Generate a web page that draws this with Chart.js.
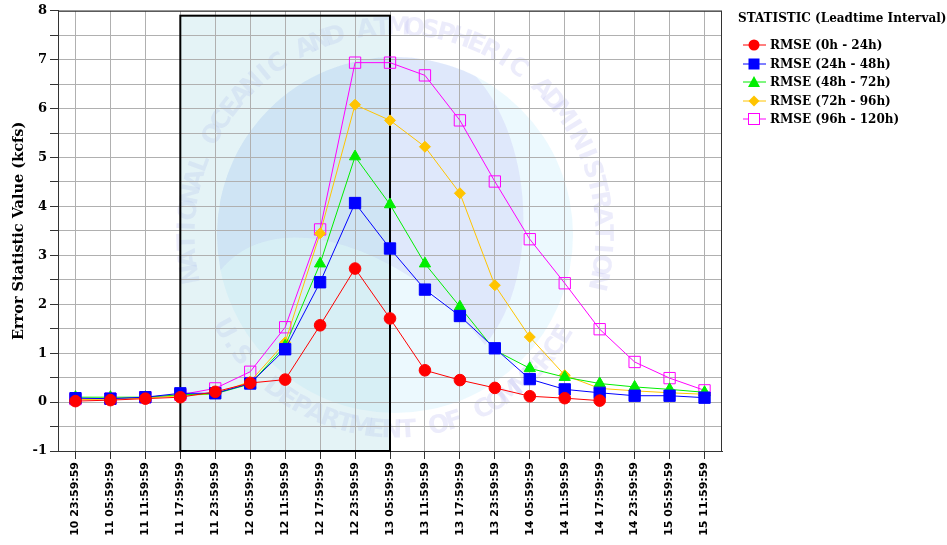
<!DOCTYPE html>
<html>
<head>
<meta charset="utf-8">
<script src="https://cdn.jsdelivr.net/npm/chart.js@4"></script>
<style>
  html,body{margin:0;padding:0;background:#fff;overflow:hidden}
  #wrap{position:relative;width:947px;height:545px}
  #legend{position:absolute;left:0;top:0;font-family:'DejaVu Serif',serif;font-weight:bold;font-size:12px;color:#000}
  .lg-title{position:absolute;left:738px;top:10px;white-space:nowrap;line-height:16px}
  .lg-row{position:absolute;left:743px;height:16px;white-space:nowrap;line-height:16px}
  .lg-row svg{position:absolute;left:0;top:1px}
  .lg-row span{position:absolute;left:27px;top:0}
</style>
</head>
<body>
<div id="wrap">
  <canvas id="chart" width="947" height="545"></canvas>
  <div id="legend"></div>
</div>
<script>
// ---- data ----
const categories = ['10 23:59:59','11 05:59:59','11 11:59:59','11 17:59:59','11 23:59:59','12 05:59:59','12 11:59:59','12 17:59:59','12 23:59:59','13 05:59:59','13 11:59:59','13 17:59:59','13 23:59:59','14 05:59:59','14 11:59:59','14 17:59:59','14 23:59:59','15 05:59:59','15 11:59:59'];
const rmse0to24   = [0.02,0.04,0.07,0.10,0.21,0.39,0.46,1.57,2.73,1.71,0.65,0.45,0.29,0.12,0.08,0.03,null,null,null];
const rmse24to48  = [0.08,0.07,0.10,0.18,0.18,0.38,1.08,2.45,4.07,3.14,2.30,1.76,1.10,0.47,0.26,0.19,0.13,0.13,0.09];
const rmse48to72  = [0.10,0.10,0.10,0.15,0.17,0.37,1.15,2.83,5.02,4.04,2.83,1.95,1.06,0.69,0.51,0.38,0.31,0.26,0.20];
const rmse72to96  = [0.05,0.06,0.08,0.13,0.17,0.42,1.22,3.45,6.08,5.76,5.22,4.27,2.39,1.33,0.55,0.28,0.23,0.19,0.16];
const rmse96to120 = [0.06,0.07,0.10,0.15,0.28,0.62,1.53,3.53,6.94,6.94,6.68,5.76,4.51,3.33,2.43,1.49,0.82,0.49,0.24];
const seriesNames = ['RMSE (0h - 24h)','RMSE (24h - 48h)','RMSE (48h - 72h)','RMSE (72h - 96h)','RMSE (96h - 120h)'];
const legendTitle = 'STATISTIC (Leadtime Interval)';
const yTitle = 'Error Statistic Value (kcfs)';
const yMin = -1, yMax = 8;
const windowStart = 3, windowEnd = 9, windowTop = 7.9;
const sealTop = 'NATIONAL OCEANIC AND ATMOSPHERIC ADMINISTRATION';
const sealBottom = 'U.S. DEPARTMENT OF COMMERCE';

const styles = [
  {color:'#ff0000', point:'circle',   radius:5.8, fill:'#ff0000'},
  {color:'#0000ff', point:'rect',     radius:8,   fill:'#0000ff'},
  {color:'#00ee00', point:'triangle', radius:6.5, fill:'#00ee00'},
  {color:'#ffc400', point:'rectRot',  radius:5.5, fill:'#ffc400'},
  {color:'#ff00ff', point:'rect',     radius:8,   fill:'rgba(0,0,0,0)'}
];
const seriesData = [rmse0to24, rmse24to48, rmse48to72, rmse72to96, rmse96to120];

// ---- background plugin: seal watermark + forecast window ----
function arcText(ctx, text, cx, cy, r, startAng, endAng, outward) {
  const n = text.length;
  const step = (endAng - startAng) / (n - 1);
  for (let i = 0; i < n; i++) {
    const a = startAng + step * i;
    ctx.save();
    ctx.translate(cx + r * Math.cos(a), cy + r * Math.sin(a));
    ctx.rotate(outward ? a + Math.PI / 2 : a - Math.PI / 2);
    ctx.fillText(text[i], 0, 0);
    ctx.restore();
  }
}
const bgPlugin = {
  id: 'bg',
  beforeDraw(chart) {
    const {ctx, chartArea: ca, scales: {x, y}} = chart;
    ctx.save();
    // watermark seal
    const cx = 395, cy = 235, R = 178;
    ctx.beginPath(); ctx.arc(cx, cy, R, 0, Math.PI * 2); ctx.clip();
    ctx.fillStyle = 'rgba(200,238,252,0.35)';
    ctx.fillRect(cx - R, cy - R, 2 * R, 2 * R);
    ctx.fillStyle = 'rgba(200,200,245,0.35)';
    ctx.beginPath();
    ctx.moveTo(cx - R, cy + 40);
    ctx.bezierCurveTo(cx - 120, cy - 40, cx + 20, cy + 20, cx + 90, cy + 110);
    ctx.bezierCurveTo(cx + 150, cy + 40, cx + 140, cy - 120, cx + 60, cy - R);
    ctx.lineTo(cx - R, cy - R);
    ctx.closePath();
    ctx.fill();
    ctx.restore();
    ctx.save();
    ctx.fillStyle = 'rgba(185,185,240,0.28)';
    ctx.font = 'bold 25px "DejaVu Sans"';
    ctx.textAlign = 'center'; ctx.textBaseline = 'middle';
    arcText(ctx, sealTop, cx, cy, 207, Math.PI * 0.94, Math.PI * 2.07, true);
    arcText(ctx, sealBottom, cx, cy, 196, Math.PI * 0.84, Math.PI * 0.17, false);
    ctx.restore();
    // forecast window fill
    ctx.save();
    const x0 = x.getPixelForValue(windowStart), x1 = x.getPixelForValue(windowEnd);
    const yt = y.getPixelForValue(windowTop), yb = y.getPixelForValue(yMin);
    ctx.fillStyle = 'rgba(170,218,228,0.32)';
    ctx.fillRect(x0, yt, x1 - x0, yb - yt);
    ctx.restore();
  },
  beforeDatasetsDraw(chart) {
    const {ctx, chartArea: ca, scales: {x, y}} = chart;
    ctx.save();
    ctx.strokeStyle = '#333';
    ctx.lineWidth = 1;
    ctx.strokeRect(ca.left + 0.5, ca.top + 0.5, ca.right - ca.left - 1, ca.bottom - ca.top);
    const x0 = x.getPixelForValue(windowStart), x1 = x.getPixelForValue(windowEnd);
    const yt = y.getPixelForValue(windowTop), yb = y.getPixelForValue(yMin);
    ctx.strokeStyle = '#000';
    ctx.lineWidth = 2;
    ctx.strokeRect(x0, yt, x1 - x0, yb - yt);
    ctx.restore();
  }
};

const datasets = seriesData.map((d, i) => ({
  label: seriesNames[i],
  data: d,
  borderColor: styles[i].color,
  backgroundColor: styles[i].fill,
  borderWidth: 1,
  pointStyle: styles[i].point,
  pointRadius: styles[i].radius,
  pointHoverRadius: styles[i].radius,
  pointBorderColor: styles[i].color,
  pointBackgroundColor: styles[i].fill,
  pointBorderWidth: 1,
  tension: 0,
  spanGaps: false,
  fill: false
}));

new Chart(document.getElementById('chart'), {
  type: 'line',
  data: {labels: categories, datasets},
  plugins: [bgPlugin],
  options: {
    responsive: false,
    animation: false,
    layout: {padding: {left: 0, right: 225, top: 10, bottom: 0}},
    plugins: {legend: {display: false}, tooltip: {enabled: false}},
    scales: {
      x: {
        type: 'category',
        offset: true,
        grid: {color: '#b0b0b0', lineWidth: 1, tickLength: 8, tickColor: '#333', offset: false},
        border: {color: '#333'},
        ticks: {
          autoSkip: false, minRotation: 90, maxRotation: 90, padding: 3,
          color: '#000', font: {family: 'DejaVu Sans', weight: 'bold', size: 11}
        },
        afterFit: s => { s.height = 94; }
      },
      y: {
        min: yMin, max: yMax,
        grid: {color: '#b0b0b0', lineWidth: 1, tickLength: 8, tickColor: '#333'},
        border: {color: '#333'},
        ticks: {
          stepSize: 0.5, padding: 3, color: '#000',
          font: {family: 'DejaVu Serif', weight: 'bold', size: 13},
          callback: v => Number.isInteger(v) ? String(v) : ''
        },
        title: {
          display: true, text: yTitle, color: '#000',
          font: {family: 'DejaVu Serif', weight: 'bold', size: 14.5},
          padding: {top: 11, bottom: 0}
        },
        afterFit: s => { s.width = 58; }
      }
    }
  }
});

// ---- HTML legend ----
function markerSVG(st) {
  const c = st.color;
  let m = '';
  if (st.point === 'circle') m = `<circle cx="11" cy="7" r="5.5" fill="${c}"/>`;
  else if (st.point === 'rect' && st.fill !== 'rgba(0,0,0,0)') m = `<rect x="5.5" y="1.5" width="11" height="11" fill="${c}"/>`;
  else if (st.point === 'rect') m = `<rect x="5.5" y="1.5" width="11" height="11" fill="#fff" stroke="${c}" stroke-width="1"/>`;
  else if (st.point === 'triangle') m = `<polygon points="11,1 17,12 5,12" fill="${c}"/>`;
  else if (st.point === 'rectRot') m = `<polygon points="11,1.5 16.5,7 11,12.5 5.5,7" fill="${c}"/>`;
  return `<svg width="23" height="14"><line x1="0" y1="7" x2="23" y2="7" stroke="${c}" stroke-width="1"/>${m}</svg>`;
}
const lg = document.getElementById('legend');
let html = `<div class="lg-title">${legendTitle}</div>`;
const rowTops = [37, 55.5, 74, 92.5, 111];
seriesNames.forEach((n, i) => {
  html += `<div class="lg-row" style="top:${rowTops[i]}px">${markerSVG(styles[i])}<span>${n}</span></div>`;
});
lg.innerHTML = html;
</script>
</body>
</html>
